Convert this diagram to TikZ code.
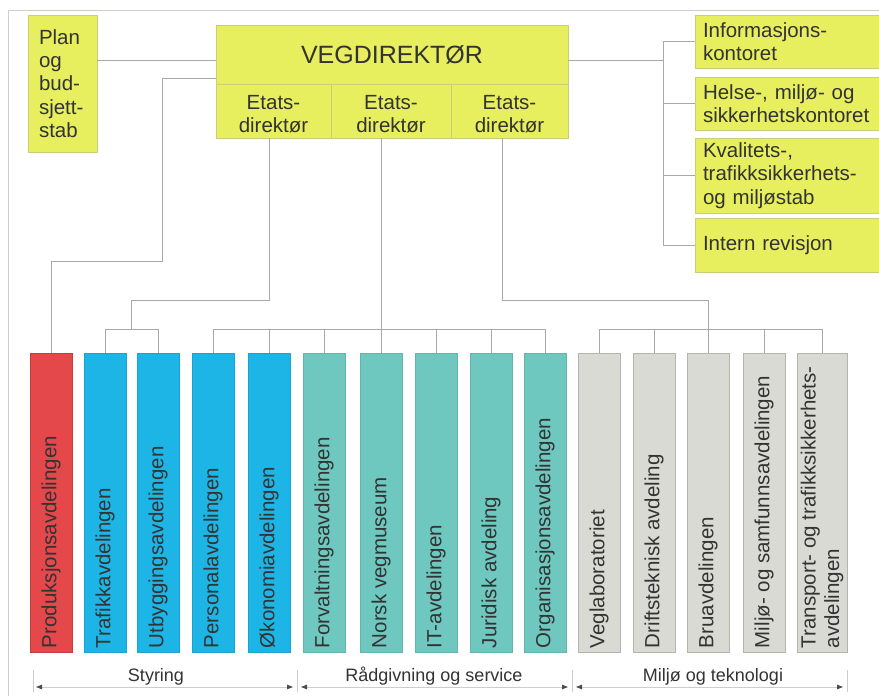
\documentclass[tikz,border=0pt]{standalone}
\usepackage{fontspec}
\setmainfont{Liberation Sans}
\usetikzlibrary{arrows.meta,calc}

\definecolor{vdyellow}{HTML}{E7EF5F}
\definecolor{ylborder}{HTML}{C9CE7A}
\definecolor{deptred}{HTML}{E5484B}
\definecolor{deptblue}{HTML}{1DB5E5}
\definecolor{deptteal}{HTML}{6EC8BF}
\definecolor{deptgray}{HTML}{DADAD4}
\definecolor{grayborder}{HTML}{B4B4AC}
\definecolor{linegray}{HTML}{A8A8A8}
\definecolor{framegray}{HTML}{CDCDCD}
\definecolor{txt}{HTML}{333333}

\newcommand\vdbody{\fontsize{20.5}{23.4}\selectfont}
\newcommand\vdtitle{\fontsize{25}{28}\selectfont}
\newcommand\vdsmall{\fontsize{18}{21}\selectfont}

\tikzset{
  conn/.style={draw=linegray, line width=1pt},
  framel/.style={draw=framegray, line width=1pt},
  ybox/.style={draw=ylborder, fill=vdyellow, line width=0.7pt, inner sep=0pt,
    text=txt, font=\vdbody},
  etext/.style={inner sep=0pt, text=txt, font=\vdbody, align=center},
  dept/.style={minimum width=42, minimum height=299, inner sep=0pt, line width=0.6pt},
  redbox/.style={dept, fill=deptred, draw=deptred!85!black},
  bluebox/.style={dept, fill=deptblue, draw=deptblue!90!black},
  tealbox/.style={dept, fill=deptteal, draw=deptteal!90!black},
  graybox/.style={dept, fill=deptgray, draw=grayborder},
  rlabel/.style={rotate=90, anchor=west, inner sep=0pt, text=txt, font=\vdbody, align=left},
  grouplabel/.style={anchor=base, inner sep=0pt, text=txt, font=\vdsmall},
  tick/.style={draw=framegray, line width=1pt},
  span/.style={draw=framegray, line width=1pt,
    {Triangle[length=6pt,width=4.5pt,color=black!70]}-{Triangle[length=6pt,width=4.5pt,color=black!70]}},
}

\begin{document}
\begin{tikzpicture}[x=1pt,y=-1pt]
\clip (0,0) rectangle (879,696);
\fill[white] (0,0) rectangle (879,696);

% outer frame
\draw[framel] (8,696) -- (8,10) -- (879,10);

% top management
\node[ybox, minimum width=352, minimum height=59, font=\vdtitle] (vdt) at (392,54.5) {VEGDIREKTØR};
\node[ybox, minimum width=115, minimum height=54] (e1) at (273.5,111) {};
\node[ybox, minimum width=120, minimum height=54] (e2) at (391,111) {};
\node[ybox, minimum width=117, minimum height=54] (e3) at (509.5,111) {};
\node[etext] (te1) at ([yshift=-3pt]e1.center) {Etats-\\direktør};
\node[etext] (te2) at ([yshift=-3pt]e2.center) {Etats-\\direktør};
\node[etext] (te3) at ([yshift=-3pt]e3.center) {Etats-\\direktør};

% staff units
\node[ybox, text width=47, inner xsep=11, minimum height=137, align=left] (plan) at (62.5,83.5)
  {Plan\\og\\bud-\\sjett-\\stab};
\node[ybox, text width=176, inner xsep=8, minimum height=53, align=left] (info) at (791,41.5)
  {Informasjons-\\kontoret};
\node[ybox, text width=176, inner xsep=8, minimum height=53, align=left] (helse) at (791,103.5)
  {Helse-, miljø- og\\sikkerhetskontoret};
\node[ybox, text width=176, inner xsep=8, minimum height=75, align=left] (kval) at (791,175.5)
  {Kvalitets-,\\trafikksikkerhets-\\og miljøstab};
\node[ybox, text width=176, inner xsep=8, minimum height=54, align=left] (intern) at (791,245)
  {Intern revisjon};

% departments
\node[redbox]  (prod)  at (51,502.5) {};
\node[bluebox] (traf)  at (105,502.5) {};
\node[bluebox] (utb)   at (158,502.5) {};
\node[bluebox] (pers)  at (213,502.5) {};
\node[bluebox] (oko)   at (269,502.5) {};
\node[tealbox] (forv)  at (324,502.5) {};
\node[tealbox] (norsk) at (381,502.5) {};
\node[tealbox] (it)    at (436,502.5) {};
\node[tealbox] (jur)   at (491,502.5) {};
\node[tealbox] (org)   at (545,502.5) {};
\node[graybox] (vegl)  at (599,502.5) {};
\node[graybox] (drift) at (654,502.5) {};
\node[graybox] (brua)  at (708,502.5) {};
\node[graybox] (miljo) at (764,502.5) {};
\node[graybox, minimum width=50] (trans) at (822,502.5) {};

\node[rlabel] (lprod)  at ([yshift=4pt]prod.south)  {Produksjonsavdelingen};
\node[rlabel] (ltraf)  at ([yshift=4pt]traf.south)  {Trafikkavdelingen};
\node[rlabel] (lutb)   at ([yshift=4pt]utb.south)   {Utbyggingsavdelingen};
\node[rlabel] (lpers)  at ([yshift=4pt]pers.south)  {Personalavdelingen};
\node[rlabel] (loko)   at ([yshift=4pt]oko.south)   {Økonomiavdelingen};
\node[rlabel] (lforv)  at ([yshift=4pt]forv.south)  {Forvaltningsavdelingen};
\node[rlabel] (lnorsk) at ([yshift=4pt]norsk.south) {Norsk vegmuseum};
\node[rlabel] (lit)    at ([yshift=4pt]it.south)    {IT-avdelingen};
\node[rlabel] (ljur)   at ([yshift=4pt]jur.south)   {Juridisk avdeling};
\node[rlabel] (lorg)   at ([yshift=4pt]org.south)   {Organisasjonsavdelingen};
\node[rlabel] (lvegl)  at ([yshift=4pt]vegl.south)  {Veglaboratoriet};
\node[rlabel] (ldrift) at ([yshift=4pt]drift.south) {Driftsteknisk avdeling};
\node[rlabel] (lbrua)  at ([yshift=4pt]brua.south)  {Bruavdelingen};
\node[rlabel] (lmiljo) at ([yshift=4pt]miljo.south) {Miljø- og samfunnsavdelingen};
\node[rlabel] (ltrans) at ([yshift=4pt]trans.south) {Transport- og trafikksikkerhets-\\avdelingen};

% helper coordinates for the connector routing
\coordinate (ya)  at (0,60);
\coordinate (yb)  at (0,78);
\coordinate (yc)  at (0,300);
\coordinate (yd)  at (0,329);
\coordinate (s1)  at (269,0);
\coordinate (s3)  at (502,0);
\coordinate (bend) at (162,261);
\coordinate (rb)  at (663,0);
\coordinate (m1)  at ($(traf.north)!0.5!(utb.north)$);

% staff connectors
\draw[conn] (plan.east |- ya) -- (vdt.west |- ya);
\draw[conn] (vdt.east |- ya) -- (rb |- ya);
\draw[conn] (info.west) -| (rb |- intern.west) -- (intern.west);
\draw[conn] (helse.west) -- (rb |- helse.west);
\draw[conn] (kval.west) -- (rb |- kval.west);

% production department directly under the director
\draw[conn] (vdt.west |- yb) -| (bend) -| (prod.north);

% first executive director
\draw[conn] (e1.south -| s1) |- (m1 |- yc) -- (m1 |- yd);
\draw[conn] (traf.north) |- (utb.north |- yd) -- (utb.north);

% second executive director
\draw[conn] (e2.south -| norsk.north) -- (norsk.north);
\draw[conn] (pers.north) |- (org.north |- yd) -- (org.north);
\draw[conn] (oko.north)  -- (oko.north |- yd);
\draw[conn] (forv.north) -- (forv.north |- yd);
\draw[conn] (it.north)   -- (it.north |- yd);
\draw[conn] (jur.north)  -- (jur.north |- yd);

% third executive director
\draw[conn] (e3.south -| s3) |- (brua.north |- yc) -- (brua.north);
\draw[conn] (vegl.north) |- (trans.north |- yd) -- (trans.north);
\draw[conn] (drift.north) -- (drift.north |- yd);
\draw[conn] (miljo.north) -- (miljo.north |- yd);

% group brackets
\coordinate (tk1) at (33,670);
\coordinate (tk2) at (297,670);
\coordinate (tk3) at (572,670);
\coordinate (tk4) at (847,670);
\foreach \t in {tk1,tk2,tk3,tk4} \draw[tick] (\t) -- ++(0,22);

\coordinate (a1l) at (36,687);  \coordinate (a1r) at (293,687);
\coordinate (a2l) at (301,687); \coordinate (a2r) at (568,687);
\coordinate (a3l) at (576,687); \coordinate (a3r) at (843,687);
\draw[span] (a1l) -- (a1r);
\draw[span] (a2l) -- (a2r);
\draw[span] (a3l) -- (a3r);

\node[grouplabel] (gstyr) at (156,681) {Styring};
\node[grouplabel] (graad) at (434,681) {Rådgivning og service};
\node[grouplabel] (gmilj) at (713,681) {Miljø og teknologi};
\end{tikzpicture}
\end{document}
